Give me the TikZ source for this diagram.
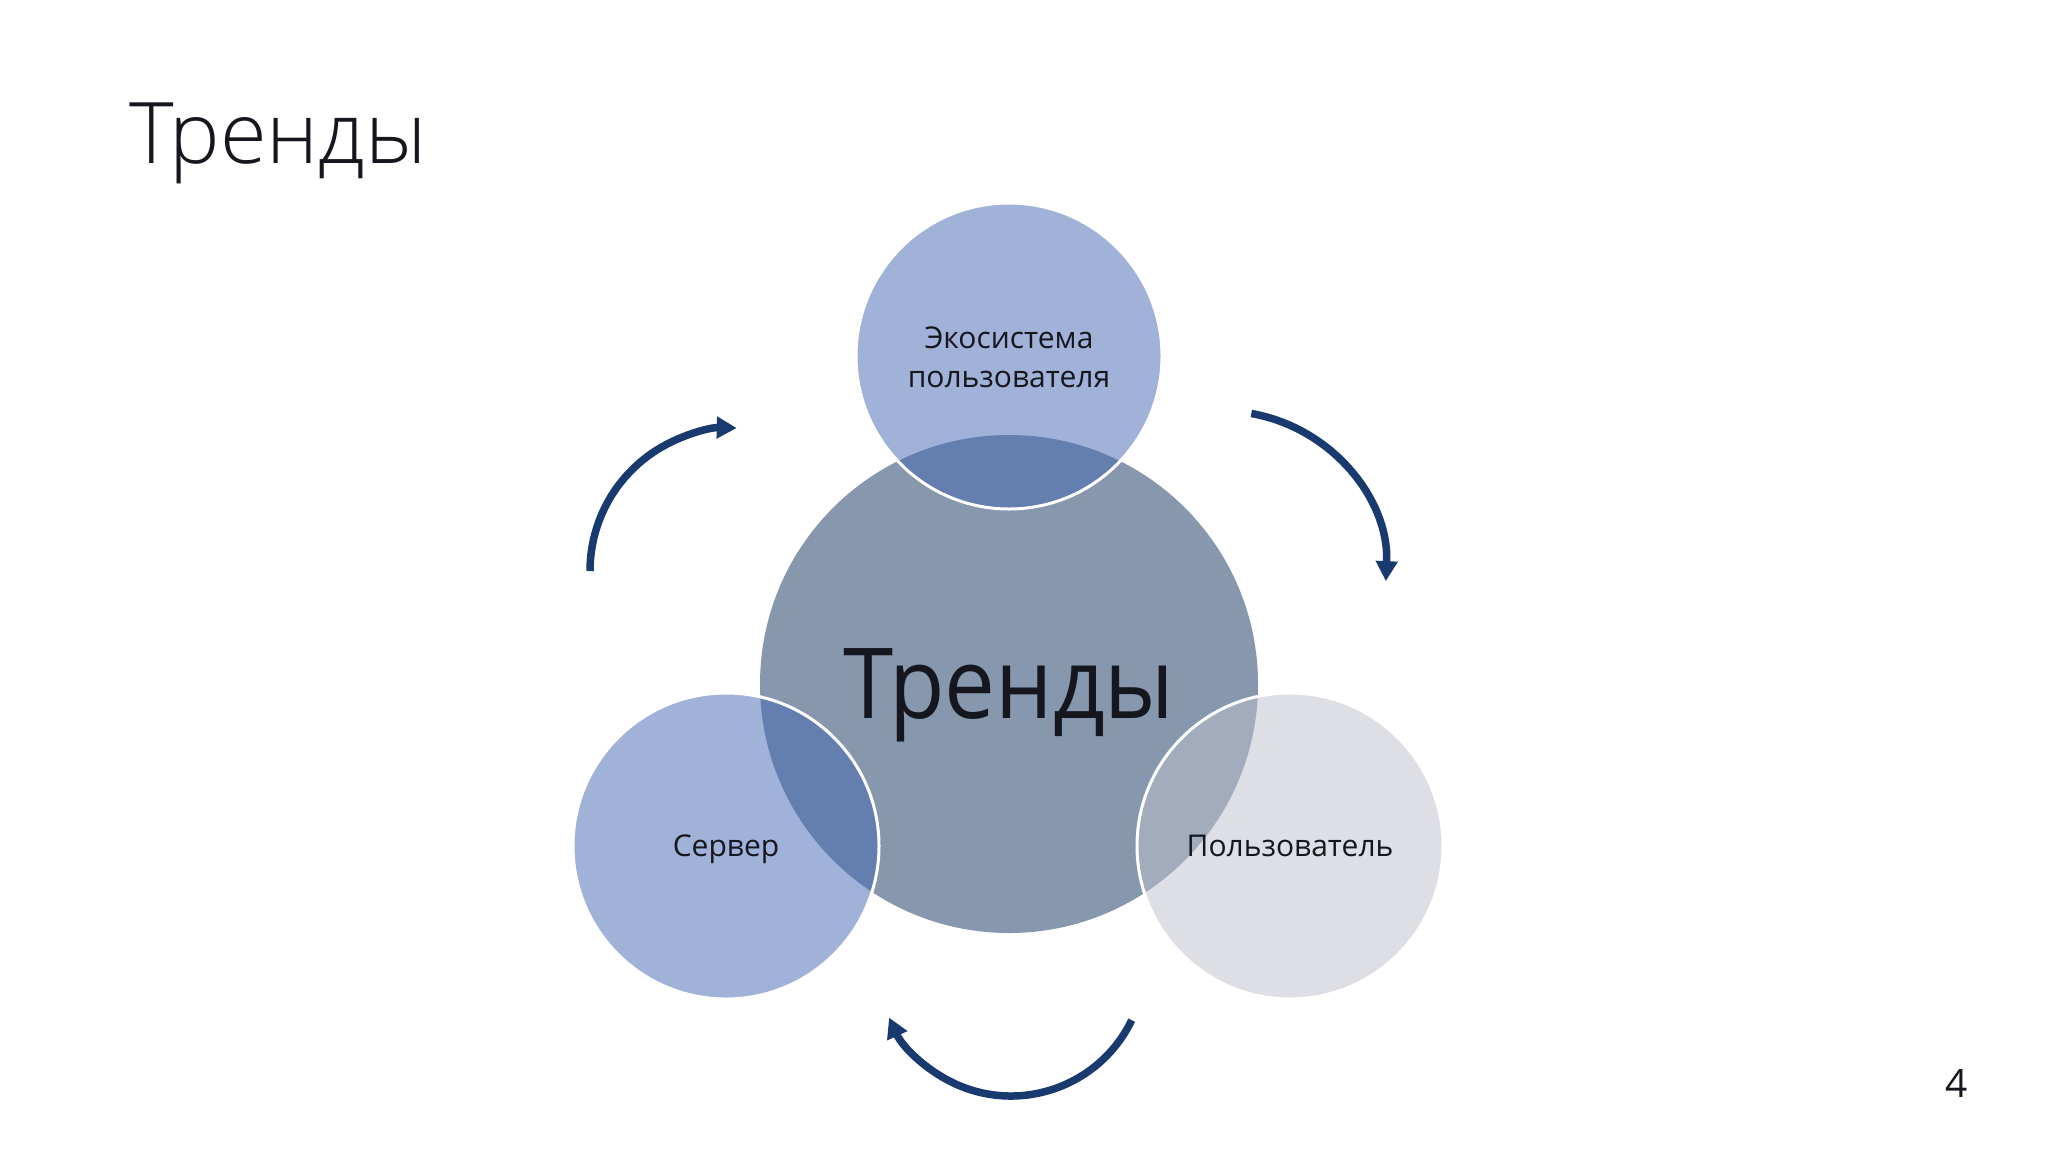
\documentclass[tikz,border=0pt]{standalone}
\usepackage{fontspec}
\setmainfont{Open Sans}
\newfontfamily\hubfont[FakeStretch=0.925]{Open Sans}
\IfFontExistsTF{Open Sans Light}{\newfontfamily\titlefont{Open Sans Light}}{\newfontfamily\titlefont{Open Sans}}
\usetikzlibrary{arrows.meta}
\definecolor{hubc}{RGB}{135,151,174}
\definecolor{satb}{RGB}{69,103,179}
\definecolor{satg}{RGB}{191,193,203}
\definecolor{arrc}{RGB}{24,58,110}
\definecolor{ink}{RGB}{22,22,30}
\begin{document}
\begin{tikzpicture}[x=1pt,y=-1pt,
  hub/.style={circle, fill=hubc, minimum size=498pt, inner sep=0pt, text=ink,
    font=\hubfont\fontsize{98}{110}\selectfont, text depth=0pt},
  sat/.style={circle, minimum size=306pt, inner sep=0pt, draw=white, line width=3pt,
    fill opacity=0.5, text opacity=1, text=ink, font=\fontsize{30}{39}\selectfont, text depth=0pt},
  lbl/.style={inner sep=0pt, text=ink, font=\fontsize{30}{39}\selectfont},
  cyc/.style={draw=arrc, line width=7.5pt, -{Triangle[length=20pt,width=21pt]}}
]
\fill[white] (0,0) rectangle (2048,1152);
\useasboundingbox (0,0) rectangle (2048,1152);

\node[anchor=base west, inner sep=0pt, text=ink, font=\titlefont\fontsize{85}{100}\selectfont] (title) at (129,163) {Тренды};

\node[hub] (hub) at (1009,684) {Тренды};

\node[sat, fill=satb] (eco) at (1009,356) {};
\node[lbl, anchor=base] (ecotxt) at (1009,348) {\begin{tabular}[t]{@{}c@{}}Экосистема\\пользователя\end{tabular}};
\node[sat, fill=satb] (srv) at (726,846) {Сервер};
\node[sat, fill=satg] (usr) at (1290,846) {Пользователь};

\coordinate (aLs) at (590,571);
\draw[cyc] (aLs) arc[start angle=180, end angle=271.5, radius=143];
\coordinate (aRs) at (1251.3,413.5);
\draw[cyc] (aRs) arc[start angle=-80, end angle=2.5, radius=163];
\coordinate (aBs) at (1131.7,1020.1);
\draw[cyc] (aBs) arc[start angle=25.7, end angle=155.5, radius=134];

\node[anchor=base, inner sep=0pt, text=ink, font=\fontsize{39}{45}\selectfont] (pg) at (1957,1097) {4};
\end{tikzpicture}
\end{document}
